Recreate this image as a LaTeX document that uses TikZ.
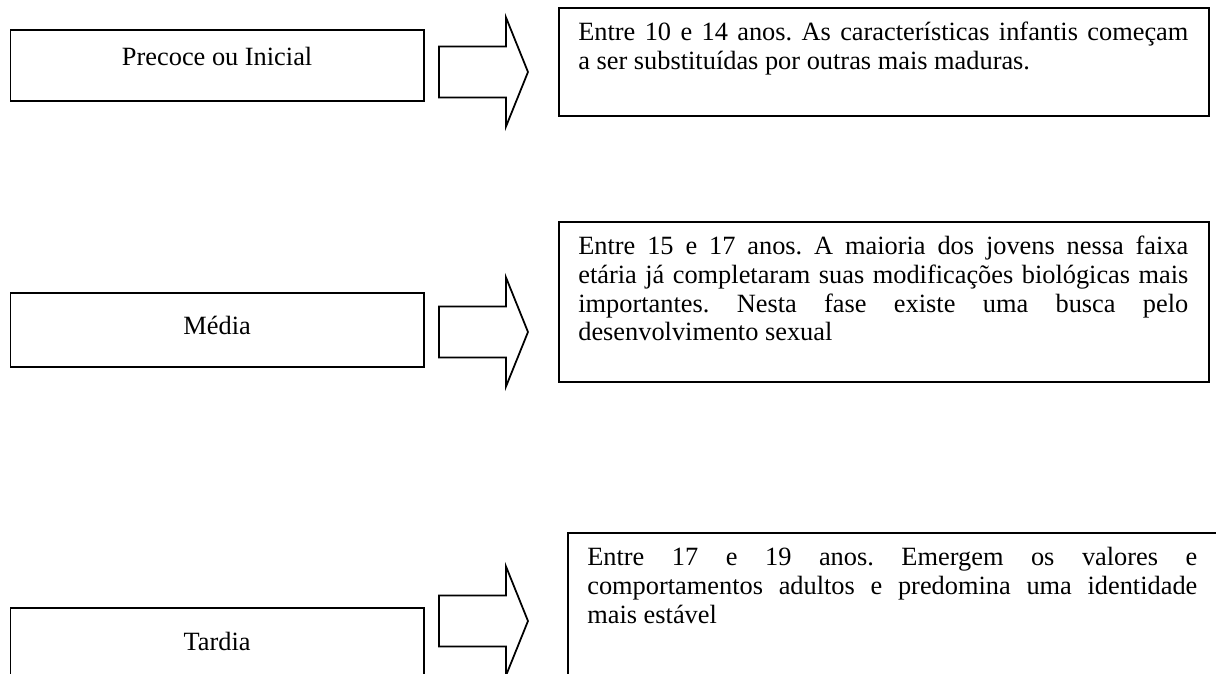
\documentclass[tikz,border=0pt]{standalone}
\usepackage{fontspec}
\setmainfont{Liberation Serif}
\frenchspacing
\tolerance=9999
\hbadness=10000

\begin{document}
\begin{tikzpicture}[
		etapa/.style={draw, line width=1pt, anchor=north west, minimum width=8.27cm,
			inner ysep=0pt, font=\fontsize{15}{16.3}\selectfont},
		quadro/.style={draw, line width=1pt, anchor=north west, minimum width=13cm},
		texto/.style={anchor=north west, inner sep=0pt, text width=12.2cm, align=justify,
			font=\fontsize{15}{16.3}\selectfont},
		bloco/.style={draw, line width=1pt, line join=miter}
	]
	\clip (0,0) rectangle (24.32,-13.48);
	
	% fases
	\node[etapa, text height=0.72cm, text depth=0.70cm] (precoce) at (0.19,-0.58) {Precoce ou Inicial};
	\node[etapa, text height=0.84cm, text depth=0.64cm] (media) at (0.19,-5.84) {Média};
	\node[etapa, text height=0.86cm, text depth=1.00cm] (tardia) at (0.19,-12.14) {Tardia};
	
	% setas
	\foreach \ty in {-1.44,-6.64,-12.42}
		\draw[bloco] (8.78,\ty+0.51) -- (10.12,\ty+0.51) -- (10.12,\ty+1.09) -- (10.56,\ty)
			-- (10.12,\ty-1.09) -- (10.12,\ty-0.51) -- (8.78,\ty-0.51) -- cycle;
	
	% descricoes
	\node[quadro, minimum height=2.16cm] (descA) at (11.16,-0.14) {};
	\node[quadro, minimum height=3.20cm] (descB) at (11.16,-4.42) {};
	\node[quadro, minimum height=3.20cm] (descC) at (11.34,-10.64) {};
	
	\node[texto] (txtA) at ([shift={(0.4,-0.27)}]descA.north west)
		{\strut Entre 10 e 14 anos. As características infantis começam\linebreak
		a ser substituídas por outras mais maduras.};
	\node[texto] (txtB) at ([shift={(0.4,-0.27)}]descB.north west)
		{\strut Entre 15 e 17 anos. A maioria dos jovens nessa faixa\linebreak
		etária já completaram suas modificações biológicas mais\linebreak
		importantes. Nesta fase existe uma busca pelo\linebreak
		desenvolvimento sexual};
	\node[texto] (txtC) at ([shift={(0.4,-0.27)}]descC.north west)
		{\strut Entre 17 e 19 anos. Emergem os valores e\linebreak
		comportamentos adultos e predomina uma identidade\linebreak
		mais estável};
\end{tikzpicture}
\end{document}
